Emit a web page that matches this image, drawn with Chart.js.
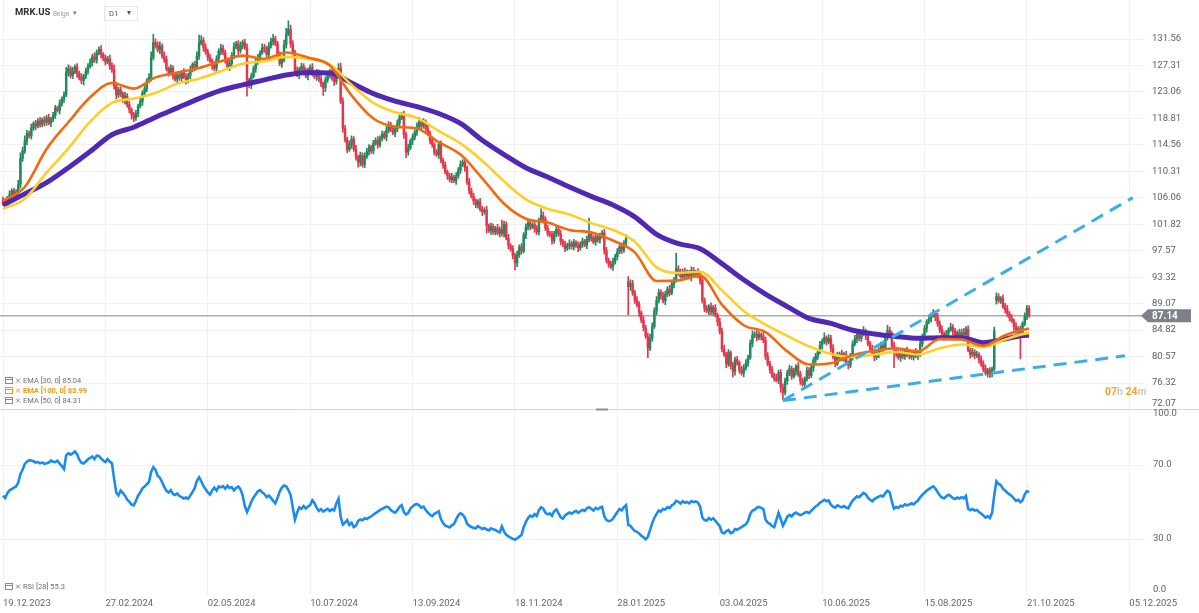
<!DOCTYPE html>
<html>
<head>
<meta charset="utf-8">
<script src="https://cdn.jsdelivr.net/npm/chart.js@4.4.1/dist/chart.umd.min.js"></script>
<style>
html, body { margin: 0; padding: 0; background: #fff; }
#wrap { position: relative; width: 1199px; height: 613px; }
</style>
</head>
<body>
<div id="wrap"><canvas id="c" width="1199" height="613"></canvas></div>
<script>
// daily closes, MRK.US D1, 19.12.2023 .. 21.10.2025
var closes = [
  105.3,105.0,105.8,106.6,107.2,106.3,106.9,108.2,112.4,113.6,
  115.2,116.4,116.0,117.3,118.0,117.6,118.4,117.9,118.6,118.2,
  118.9,118.1,118.7,119.3,120.5,120.1,121.2,121.9,122.6,126.2,
  126.8,125.7,126.3,127.1,126.0,125.4,124.9,125.6,126.4,127.2,
  127.8,128.7,128.2,129.3,129.9,129.1,128.5,127.9,128.4,127.3,
  126.6,124.0,122.6,123.4,122.8,121.7,122.4,121.0,120.2,119.4,
  118.9,119.6,120.8,121.5,122.9,123.6,124.8,125.4,128.6,131.0,
  130.6,129.8,130.4,128.9,128.3,126.8,126.2,126.9,125.6,125.1,
  125.8,125.3,126.2,125.5,124.9,125.7,126.6,127.5,127.1,128.8,
  130.9,131.3,130.2,129.5,128.6,128.1,127.3,126.9,128.4,129.6,
  130.1,129.4,128.2,127.1,127.6,128.9,130.3,130.8,129.7,130.5,
  131.0,130.2,125.0,124.1,125.6,126.8,127.9,128.6,129.4,130.2,
  130.0,129.1,130.4,131.2,131.6,130.9,128.9,127.6,128.3,130.6,
  132.4,133.1,130.8,129.4,126.5,125.8,126.7,127.2,126.3,125.6,
  126.4,127.0,126.1,125.5,126.2,125.1,124.4,123.7,125.0,125.8,
  126.1,125.2,124.7,126.0,126.9,121.5,117.2,115.4,113.8,114.6,
  115.5,113.9,112.6,111.8,112.9,111.4,112.7,113.5,114.2,113.6,
  114.8,115.3,114.6,115.7,116.3,115.8,116.9,117.8,117.2,116.5,
  117.1,118.0,118.9,119.5,116.2,113.4,114.1,115.2,115.8,116.6,
  117.5,118.2,117.6,118.3,117.2,116.4,115.3,114.6,113.4,113.0,
  114.6,112.1,111.3,110.2,109.6,109.0,109.4,108.8,109.6,110.5,
  111.4,111.8,110.9,108.6,107.2,106.3,105.6,104.9,105.4,104.2,
  103.8,104.1,101.6,100.8,101.5,100.6,101.2,100.4,101.0,100.3,
  101.8,99.6,98.4,97.9,96.8,95.6,96.9,98.2,97.5,100.1,
  101.3,102.0,101.4,101.8,101.1,100.6,102.4,103.2,102.6,101.2,
  100.4,100.1,99.2,100.3,101.0,100.2,99.1,98.6,97.9,98.4,
  98.7,98.2,98.9,98.4,98.0,98.6,99.1,98.5,99.4,100.2,
  99.6,99.0,99.8,99.3,99.9,100.4,97.6,96.0,95.4,95.0,
  95.8,96.6,97.4,98.2,97.7,98.8,99.6,91.8,92.3,90.8,
  89.6,88.9,87.6,86.4,85.2,83.8,81.9,83.5,85.4,87.9,
  89.6,90.9,90.3,89.5,90.6,91.4,90.8,92.2,92.9,94.6,
  94.1,93.4,94.2,93.6,94.0,93.3,94.4,93.8,94.1,93.5,
  92.8,89.6,88.3,87.9,88.6,87.7,88.4,87.2,86.1,84.6,
  81.8,80.9,79.4,81.2,79.1,78.2,80.1,79.6,78.4,77.9,
  78.8,79.5,80.4,82.7,84.0,84.2,83.6,84.1,83.9,83.2,
  80.6,79.4,78.5,77.6,77.1,76.8,78.0,75.6,74.8,76.7,
  77.9,78.6,77.4,78.2,79.0,77.8,76.6,76.1,77.0,78.3,
  77.5,78.8,80.0,80.6,81.3,82.4,83.0,83.6,82.9,83.5,
  81.9,80.6,79.4,80.8,81.0,80.3,80.9,79.6,79.2,80.5,
  82.6,83.4,84.1,83.5,84.2,84.6,83.9,82.7,81.8,81.2,
  80.5,80.9,81.6,82.4,82.0,83.7,84.8,84.3,82.3,81.6,
  81.0,80.4,81.2,80.6,81.5,80.8,81.1,80.5,81.3,80.7,
  81.0,82.6,83.8,85.1,86.2,86.6,87.2,87.6,86.9,85.8,
  84.9,84.2,83.8,84.3,84.9,85.3,84.6,84.0,84.4,83.9,
  84.5,84.1,85.0,81.6,80.9,81.3,80.7,80.9,80.1,79.4,
  78.6,77.9,78.3,77.8,78.6,84.7,90.2,89.6,89.9,88.6,
  88.2,87.4,86.8,86.3,85.4,84.7,85.0,84.4,85.9,87.0,
  88.3,87.14
];
// wick lengths above / below the body, in tenths of a dollar
var wickUp = [
  4,3,5,6,3,4,5,7,9,6, 8,5,4,6,3,5,4,6,3,5, 4,6,3,5,4,3,6,4,5,8, 6,4,7,3,5,4,6,3,5,4,
  6,4,7,5,4,6,3,5,4,6, 5,8,6,4,5,3,6,4,5,3, 4,5,3,6,4,5,4,6,9,13, 6,5,7,4,6,5,3,5,4,6,
  4,5,3,6,5,4,6,3,5,7, 13,8,5,6,4,5,3,6,5,4, 6,5,4,3,6,5,7,4,5,6, 4,5,6,3,5,4,6,5,3,6,
  5,4,6,5,7,4,3,6,5,8, 9,14,7,5,4,6,3,5,4,6, 5,4,6,3,5,4,6,3,5,4, 6,5,4,5,7,8,6,5,4,6,
  5,4,6,3,5,4,6,5,4,3, 5,4,6,3,5,4,6,5,4,5, 4,6,5,3,5,4,6,3,5,4, 6,8,4,5,3,6,4,5,3,4,
  5,6,4,5,3,4,6,3,5,4, 6,4,5,3,6,4,5,3,4,6, 5,4,6,3,5,4,3,6,4,15, 5,4,6,3,5,4,6,3,5,4,
  6,4,5,3,6,5,4,11,6,4, 5,3,6,4,5,4,6,3,5,4, 6,4,5,3,6,4,5,3,5,26, 5,4,6,3,5,4,6,5,4,5,
  6,4,5,3,6,4,5,8,6,5, 4,6,5,3,6,4,5,7,6,5, 6,5,4,6,5,4,6,5,4,26, 6,5,4,6,5,4,6,5,3,6,
  5,6,4,5,3,6,4,5,3,6, 5,6,4,5,3,6,4,5,3,6, 5,6,4,5,7,4,6,5,3,6, 5,6,4,5,3,6,4,5,6,4,
  5,6,4,5,3,6,4,5,3,6, 5,6,4,5,3,6,4,8,3,6, 5,6,4,5,3,6,4,5,3,6, 5,6,4,5,3,8,4,5,3,6,
  5,6,4,5,3,6,8,5,3,6, 5,6,4,5,3,6,4,5,3,6, 5,6,4,5,3,6,4,5,3,6, 5,6,4,5,3,6,4,5,3,6,
  5,6,4,5,3,6,4,5,3,6, 5,6,4,5,3,6,6,5,3,6, 5,6,4,5,3,6,4,5,3,6, 5,4
];
var wickDn = [
  5,4,3,6,4,5,3,4,6,5, 4,6,3,5,4,6,3,5,4,6, 5,3,6,4,5,3,6,4,5,3, 6,4,5,3,6,4,5,7,4,5,
  3,6,4,5,3,6,4,5,3,6, 4,5,6,4,5,3,6,4,5,7, 6,4,5,3,6,4,5,3,6,4, 5,3,6,4,5,3,6,4,5,3,
  6,4,5,3,6,4,5,3,6,4, 5,3,6,4,5,3,6,4,5,3, 6,4,5,3,6,4,5,3,6,4, 5,3,26,4,5,3,6,4,5,3,
  6,4,5,3,6,4,5,3,6,4, 5,3,6,4,5,3,6,4,5,3, 6,4,5,3,6,4,5,12,6,4, 5,3,6,4,5,3,6,4,5,3,
  6,4,5,8,6,4,5,3,6,4, 5,3,6,4,5,3,6,4,5,3, 6,4,5,3,6,9,5,3,6,4, 5,3,6,4,5,3,6,4,5,3,
  6,4,5,3,6,4,5,3,6,4, 5,3,6,4,5,3,6,4,5,3, 6,4,12,3,6,4,5,3,6,4, 5,3,6,4,5,11,6,4,5,3,
  6,4,5,3,6,4,5,3,6,4, 5,3,6,4,5,3,6,4,5,3, 6,4,5,3,6,4,5,3,6,4, 5,3,6,4,5,3,6,4,5,3,
  6,4,5,3,6,4,5,45,6,4, 5,3,6,4,5,3,15,4,5,3, 6,4,5,3,6,4,5,3,6,4, 5,3,6,4,5,3,6,4,5,3,
  6,4,5,3,6,4,5,3,6,4, 5,3,6,4,5,9,6,4,5,3, 6,4,5,3,6,4,5,3,6,4, 5,3,6,4,5,3,6,8,12,4,
  6,4,5,3,6,4,5,3,6,4, 5,3,6,4,5,3,6,4,5,3, 6,4,5,3,6,4,5,3,6,4, 5,3,6,4,5,3,6,4,5,3,
  6,4,5,3,6,4,5,3,6,28, 5,3,6,4,5,3,6,4,5,3, 6,4,5,3,6,4,5,3,6,4, 5,3,6,4,5,3,6,4,5,3,
  6,4,5,3,6,4,5,3,6,4, 5,3,6,6,5,3,6,4,5,3, 6,4,5,3,6,4,5,42,6,4, 5,3
];
var firstOpen = 105.8;
var gapIdx = [287, 456];
var gapOpen = [92.6, 89.6];

var rsi = [
  53.5,52.2,54.8,56.3,56.9,57.8,58.4,60.5,65.2,67.4,
  70.6,71.8,72.6,72.4,72.0,71.3,71.6,70.9,71.4,70.6,
  70.9,71.3,72.4,71.8,71.6,72.3,70.8,69.4,67.8,75.2,
  76.4,75.6,76.2,77.3,75.8,72.9,71.2,70.8,71.9,73.1,
  73.8,74.6,73.2,75.1,74.9,73.6,72.4,71.6,73.2,71.8,
  71.0,62.5,55.0,53.6,56.2,55.0,53.4,51.2,50.2,48.6,
  48.2,50.5,53.4,55.2,57.4,58.3,59.6,60.8,66.2,68.8,
  67.4,64.2,63.1,60.8,58.2,56.0,55.1,56.4,54.3,53.8,
  54.6,53.2,52.6,51.9,52.4,51.7,53.6,55.4,57.6,61.4,
  63.3,61.2,58.7,56.9,55.2,54.0,56.3,57.8,56.2,58.4,
  57.9,58.6,57.2,58.8,57.6,58.1,56.3,57.6,58.4,56.8,
  53.6,47.8,44.6,47.2,50.3,52.4,54.1,55.8,56.4,55.2,
  54.3,52.6,53.5,52.2,50.6,49.3,52.1,55.6,57.8,58.9,
  58.5,56.4,53.9,47.2,40.5,44.2,47.1,46.3,47.8,46.4,
  47.6,48.3,50.9,49.4,46.8,45.2,46.1,44.8,45.6,46.3,
  45.1,46.0,45.4,49.2,51.8,42.0,37.8,38.9,40.2,37.6,
  38.8,36.4,37.2,39.8,40.6,40.1,41.2,40.8,41.6,42.3,
  43.1,44.0,44.8,45.6,46.2,46.9,47.5,47.1,45.6,44.8,
  44.2,45.6,47.4,48.3,44.6,43.2,44.1,46.4,47.6,48.5,
  48.9,48.2,46.9,47.5,45.8,44.3,43.1,42.4,43.6,44.2,
  45.0,40.8,38.6,37.2,36.8,36.2,37.4,38.1,40.6,42.8,
  44.0,43.2,41.5,38.4,37.2,36.5,36.0,35.8,36.9,36.2,
  35.4,35.9,35.1,34.6,35.8,35.2,34.9,34.1,33.6,36.8,
  34.0,32.2,31.4,30.8,30.1,29.6,30.4,31.3,32.2,36.4,
  39.2,41.3,42.6,42.0,43.4,42.4,45.6,47.2,46.4,44.2,
  43.4,43.8,42.6,45.1,46.0,43.8,41.7,41.0,42.8,43.6,
  44.3,43.7,44.6,45.2,44.1,45.0,45.8,45.2,46.6,47.2,
  46.4,45.3,46.8,46.1,46.9,47.4,42.3,40.2,39.6,39.9,
  41.0,42.8,44.6,46.2,45.4,47.2,48.3,37.6,37.1,35.6,
  34.4,33.9,33.0,31.8,30.9,29.8,31.2,34.8,38.6,41.5,
  43.6,45.4,44.8,46.2,45.9,47.2,46.7,48.3,48.9,50.6,
  50.1,49.2,50.4,49.6,50.0,49.3,50.5,49.9,50.3,49.6,
  47.4,41.6,40.2,40.0,41.3,40.4,41.2,39.8,38.4,36.9,
  33.5,33.1,34.2,34.9,33.2,33.6,35.4,35.0,35.8,36.4,
  37.2,37.9,39.8,43.6,45.4,45.8,46.9,47.3,46.8,46.2,
  40.6,38.9,38.2,37.0,36.4,40.3,44.1,40.8,37.2,39.4,
  42.1,43.0,42.2,43.6,44.3,43.5,42.9,43.4,44.2,44.6,
  44.0,45.2,46.4,47.6,48.4,49.6,50.3,51.2,50.4,50.9,
  48.6,47.5,46.9,48.2,47.6,47.1,47.8,47.0,46.6,48.9,
  50.8,51.9,53.1,52.6,53.8,54.9,54.2,52.4,51.2,50.4,
  51.6,52.3,52.9,53.4,53.0,54.8,56.1,55.3,50.2,46.4,
  47.3,46.8,48.0,47.6,48.8,48.2,48.6,49.3,48.7,49.9,
  50.8,52.6,53.9,55.0,56.2,57.0,57.8,58.4,57.2,55.4,
  53.6,52.4,52.0,53.1,53.9,53.2,52.1,51.6,52.4,51.9,
  52.6,52.0,53.3,46.4,45.6,46.2,45.4,45.7,44.6,43.8,
  42.7,41.6,42.4,41.3,44.2,53.6,61.2,59.8,59.2,57.1,
  56.2,55.0,54.1,53.3,51.9,50.6,51.2,49.9,51.0,54.2,
  55.9,55.3
];

// moving averages read every 10 bars
var emaIdx = [0,10,20,30,40,50,60,70,80,90,100,110,120,130,140,150,160,170,180,190,200,210,220,230,
  240,250,260,270,280,290,300,310,320,330,340,350,360,370,380,390,400,410,420,430,440,450,460,470,471];
var ema30 = [105.6,107.8,113.9,118.2,122.2,124.5,123.6,125.4,126.2,126.9,128.0,128.9,128.4,129.4,128.6,127.3,
  122.5,118.8,117.5,117.2,115.0,113.0,109.2,105.1,102.7,102.1,100.9,100.5,99.2,97.3,92.7,92.8,93.6,88.9,
  85.6,84.5,81.4,79.3,79.5,80.8,81.5,81.9,81.4,83.4,83.3,82.3,84.0,85.0,85.04];
var ema50 = [104.3,105.9,110.1,114.0,118.3,121.3,122.0,122.9,124.4,125.2,126.4,127.6,128.0,128.7,128.4,127.5,
  124.2,121.3,119.8,118.9,116.8,114.8,112.0,108.7,105.8,104.3,103.4,102.0,100.9,99.0,94.9,94.0,94.2,91.2,
  87.9,85.7,83.9,82.2,81.0,80.5,80.9,81.3,80.9,81.9,82.5,82.1,83.3,84.3,84.31];
var ema100 = [104.9,106.7,108.5,110.9,113.5,116.2,117.4,119.0,120.5,122.0,123.3,124.2,125.0,125.8,126.2,126.1,
  124.5,122.8,121.6,120.7,119.6,118.0,115.3,113.0,110.9,109.4,107.8,106.3,104.9,103.0,100.2,98.7,97.9,95.5,
  92.9,90.6,88.6,86.7,85.9,84.8,84.2,83.8,83.5,83.6,83.6,82.8,83.4,84.0,83.99];

var trendUpperX = [358, 518.6], trendUpperY = [73.5, 106.1];
var trendLowerX = [358, 515], trendLowerY = [73.5, 80.7];

var priceTicks = [72.07,76.32,80.57,84.82,89.07,93.32,97.57,101.82,106.06,110.31,114.56,118.81,123.06,127.31,131.56];
var rsiTicks = [0, 30, 70, 100];
var rsiTickLabels = ['0.0', '30.0', '70.0', '100.0'];
var dateTickIdx = [0,47,94,141,188,235,282,329,376,423,470,517];
var dateLabels = ['19.12.2023','27.02.2024','02.05.2024','10.07.2024','13.09.2024','18.11.2024',
  '28.01.2025','03.04.2025','10.06.2025','15.08.2025','21.10.2025','05.12.2025'];
var lastPrice = 87.14;
var emaLegend = ['EMA [30, 0] 85.04', 'EMA [100, 0] 83.99', 'EMA [50, 0] 84.31'];
var rsiLegend = 'RSI [28] 55.3';

var GREEN = '#1f8a5c', RED = '#e5354d';
var FONT = 'Roboto, "Open Sans", sans-serif';

// candles: open is the previous close unless the day gapped
var opens = closes.map(function (c, i) { return i === 0 ? firstOpen : closes[i - 1]; });
gapIdx.forEach(function (k, j) { opens[k] = gapOpen[j]; });
var bodies = [], wicks = [], candleColors = [];
for (let i = 0; i < closes.length; ++i) {
    var o = opens[i], c = closes[i];
    bodies.push({x: i, y: [o, c]});
    wicks.push({x: i, y: [Math.min(o, c) - wickDn[i] / 10, Math.max(o, c) + wickUp[i] / 10]});
    candleColors.push(c >= o ? GREEN : RED);
}
var pts = function (xs, ys) { return xs.map(function (x, k) { return {x: x, y: ys[k]}; }); };

var drawIcons = function (ctx, x, y, color) {
    ctx.strokeStyle = color; ctx.lineWidth = 1;
    ctx.strokeRect(x + 0.5, y - 3.5, 7, 6);
    ctx.beginPath(); ctx.moveTo(x + 0.5, y - 1.5); ctx.lineTo(x + 7.5, y - 1.5); ctx.stroke();
    ctx.beginPath();
    ctx.moveTo(x + 11, y - 2.5); ctx.lineTo(x + 15, y + 1.5);
    ctx.moveTo(x + 15, y - 2.5); ctx.lineTo(x + 11, y + 1.5);
    ctx.stroke();
};

var overlay = {
    id: 'overlay',
    beforeDatasetsDraw: function (chart) {
        var ctx = chart.ctx;
        var py = chart.scales.y.getPixelForValue(lastPrice);
        ctx.save();
        ctx.strokeStyle = '#a9adb2'; ctx.lineWidth = 1.5;
        ctx.beginPath(); ctx.moveTo(0, py); ctx.lineTo(1142, py); ctx.stroke();
        ctx.restore();
    },
    afterDraw: function (chart) {
        var ctx = chart.ctx, ys = chart.scales.y, rs = chart.scales.y2;
        var sep = ys.bottom;
        ctx.save();
        // pane separator and handle
        ctx.strokeStyle = '#d4d4d4'; ctx.lineWidth = 1;
        ctx.beginPath(); ctx.moveTo(0, sep); ctx.lineTo(1199, sep); ctx.stroke();
        ctx.fillStyle = '#8d8d8d'; ctx.fillRect(596, sep - 1, 12, 2);

        // right axis labels
        ctx.font = '9.5px ' + FONT; ctx.fillStyle = '#5c6066';
        ctx.textAlign = 'left'; ctx.textBaseline = 'middle';
        priceTicks.forEach(function (v, k) {
            var y = ys.getPixelForValue(v);
            if (k === 0) y -= 5.5;
            ctx.fillText(v.toFixed(2), 1152, y);
        });
        rsiTicks.forEach(function (v, k) {
            var y = rs.getPixelForValue(v);
            if (v === 100) y += 4.5;
            if (v === 0) y -= 4.5;
            ctx.fillText(rsiTickLabels[k], 1153, y);
        });

        // last price tag
        var py = ys.getPixelForValue(lastPrice);
        ctx.fillStyle = '#7c8188';
        ctx.beginPath();
        ctx.moveTo(1141, py); ctx.lineTo(1148, py - 6.5); ctx.lineTo(1191, py - 6.5);
        ctx.lineTo(1191, py + 6.5); ctx.lineTo(1148, py + 6.5); ctx.closePath(); ctx.fill();
        ctx.fillStyle = '#ffffff'; ctx.font = 'bold 10px ' + FONT;
        ctx.fillText(lastPrice.toFixed(2), 1152, py + 0.5);

        // countdown
        ctx.font = 'bold 10.5px ' + FONT; ctx.textAlign = 'left';
        var parts = [['07', '#f4a52a'], ['h ', '#c9c9c9'], ['24', '#f4a52a'], ['m', '#c9c9c9']];
        var cx = 1105;
        parts.forEach(function (p) {
            ctx.fillStyle = p[1]; ctx.fillText(p[0], cx, 392);
            cx += ctx.measureText(p[0]).width;
        });

        // header
        ctx.textBaseline = 'middle';
        ctx.font = 'bold 9.5px ' + FONT; ctx.fillStyle = '#2c2f33';
        ctx.fillText('MRK.US', 15, 13);
        ctx.font = '6.5px ' + FONT; ctx.fillStyle = '#9a9a9a';
        ctx.fillText('Beige', 53, 14);
        ctx.font = '7px ' + FONT; ctx.fillStyle = '#777';
        ctx.fillText('\u25BE', 73, 13);
        ctx.strokeStyle = '#e6e6e6'; ctx.strokeRect(104.5, 6.5, 33, 14);
        ctx.font = '7.5px ' + FONT; ctx.fillStyle = '#555';
        ctx.fillText('D1', 109, 14);
        ctx.fillText('\u25BE', 127, 13);

        // indicator legends
        emaLegend.forEach(function (t, k) {
            var y = 381 + k * 10;
            var hot = k === 1;
            var col = hot ? '#f39a1e' : '#8a8a8a';
            drawIcons(ctx, 5, y, col);
            ctx.font = (hot ? 'bold ' : '') + '7.5px ' + FONT;
            ctx.fillStyle = hot ? '#f39a1e' : '#6f6f6f';
            ctx.fillText(t, 23, y);
        });
        drawIcons(ctx, 5, 587, '#8a8a8a');
        ctx.font = '7.5px ' + FONT; ctx.fillStyle = '#6f6f6f';
        ctx.fillText(rsiLegend, 23, 587);
        ctx.restore();
    }
};

var chart = new Chart(document.getElementById('c'), {
    type: 'bar',
    data: {
        datasets: [
            {type: 'line', label: 'trend up', data: pts(trendUpperX, trendUpperY), yAxisID: 'y',
             borderColor: '#3aaee6', borderWidth: 3, borderDash: [13, 8], pointRadius: 0, order: 0},
            {type: 'line', label: 'trend low', data: pts(trendLowerX, trendLowerY), yAxisID: 'y',
             borderColor: '#3aaee6', borderWidth: 3, borderDash: [13, 8], pointRadius: 0, order: 0},
            {type: 'line', label: 'RSI', data: pts(closes.map(function (c, i) { return i; }), rsi), yAxisID: 'y2',
             borderColor: '#1a8cf0', borderWidth: 2.6, pointRadius: 0, order: 1},
            {type: 'line', label: 'EMA 30', data: pts(emaIdx, ema30), yAxisID: 'y',
             borderColor: '#f26a10', borderWidth: 2.6, pointRadius: 0, cubicInterpolationMode: 'monotone', order: 2},
            {type: 'line', label: 'EMA 50', data: pts(emaIdx, ema50), yAxisID: 'y',
             borderColor: '#ffcf26', borderWidth: 2.6, pointRadius: 0, cubicInterpolationMode: 'monotone', order: 3},
            {type: 'line', label: 'EMA 100', data: pts(emaIdx, ema100), yAxisID: 'y',
             borderColor: '#5028b4', borderWidth: 5, pointRadius: 0, cubicInterpolationMode: 'monotone', order: 4},
            {type: 'bar', label: 'body', data: bodies, yAxisID: 'y', backgroundColor: candleColors,
             barThickness: 1.8, minBarLength: 1, grouped: false, order: 5},
            {type: 'bar', label: 'wick', data: wicks, yAxisID: 'y', backgroundColor: candleColors,
             barThickness: 1, grouped: false, order: 6}
        ]
    },
    options: {
        responsive: false,
        animation: false,
        events: [],
        layout: {padding: 0},
        plugins: {legend: {display: false}, tooltip: {enabled: false}},
        scales: {
            x: {
                type: 'linear', min: -1.38, max: 524.2, offset: false,
                grid: {color: '#f0f0f0', drawTicks: false, offset: false},
                border: {display: false},
                afterBuildTicks: function (s) { s.ticks = dateTickIdx.map(function (v) { return {value: v}; }); },
                afterFit: function (s) { s.height = 18.5; },
                ticks: {
                    align: 'start', maxRotation: 0, autoSkip: false, padding: 3, color: '#62666b',
                    font: {family: FONT, size: 9.5},
                    callback: function (v) { var k = dateTickIdx.indexOf(v); return k < 0 ? '' : dateLabels[k]; }
                }
            },
            y: {
                type: 'linear', position: 'right', stack: 'panes', stackWeight: 409.5,
                min: 72.07, max: 137.83,
                grid: {color: '#f1f1f1', drawTicks: false},
                border: {display: false},
                ticks: {display: false},
                afterBuildTicks: function (s) { s.ticks = priceTicks.map(function (v) { return {value: v}; }); },
                afterFit: function (s) { s.width = 54; }
            },
            y2: {
                type: 'linear', position: 'right', stack: 'panes', stackWeight: 185,
                min: 0, max: 100,
                grid: {color: '#f1f1f1', drawTicks: false},
                border: {display: false},
                ticks: {display: false},
                afterBuildTicks: function (s) { s.ticks = [30, 70].map(function (v) { return {value: v}; }); },
                afterFit: function (s) { s.width = 54; }
            }
        }
    },
    plugins: [overlay]
});
</script>
</body>
</html>
